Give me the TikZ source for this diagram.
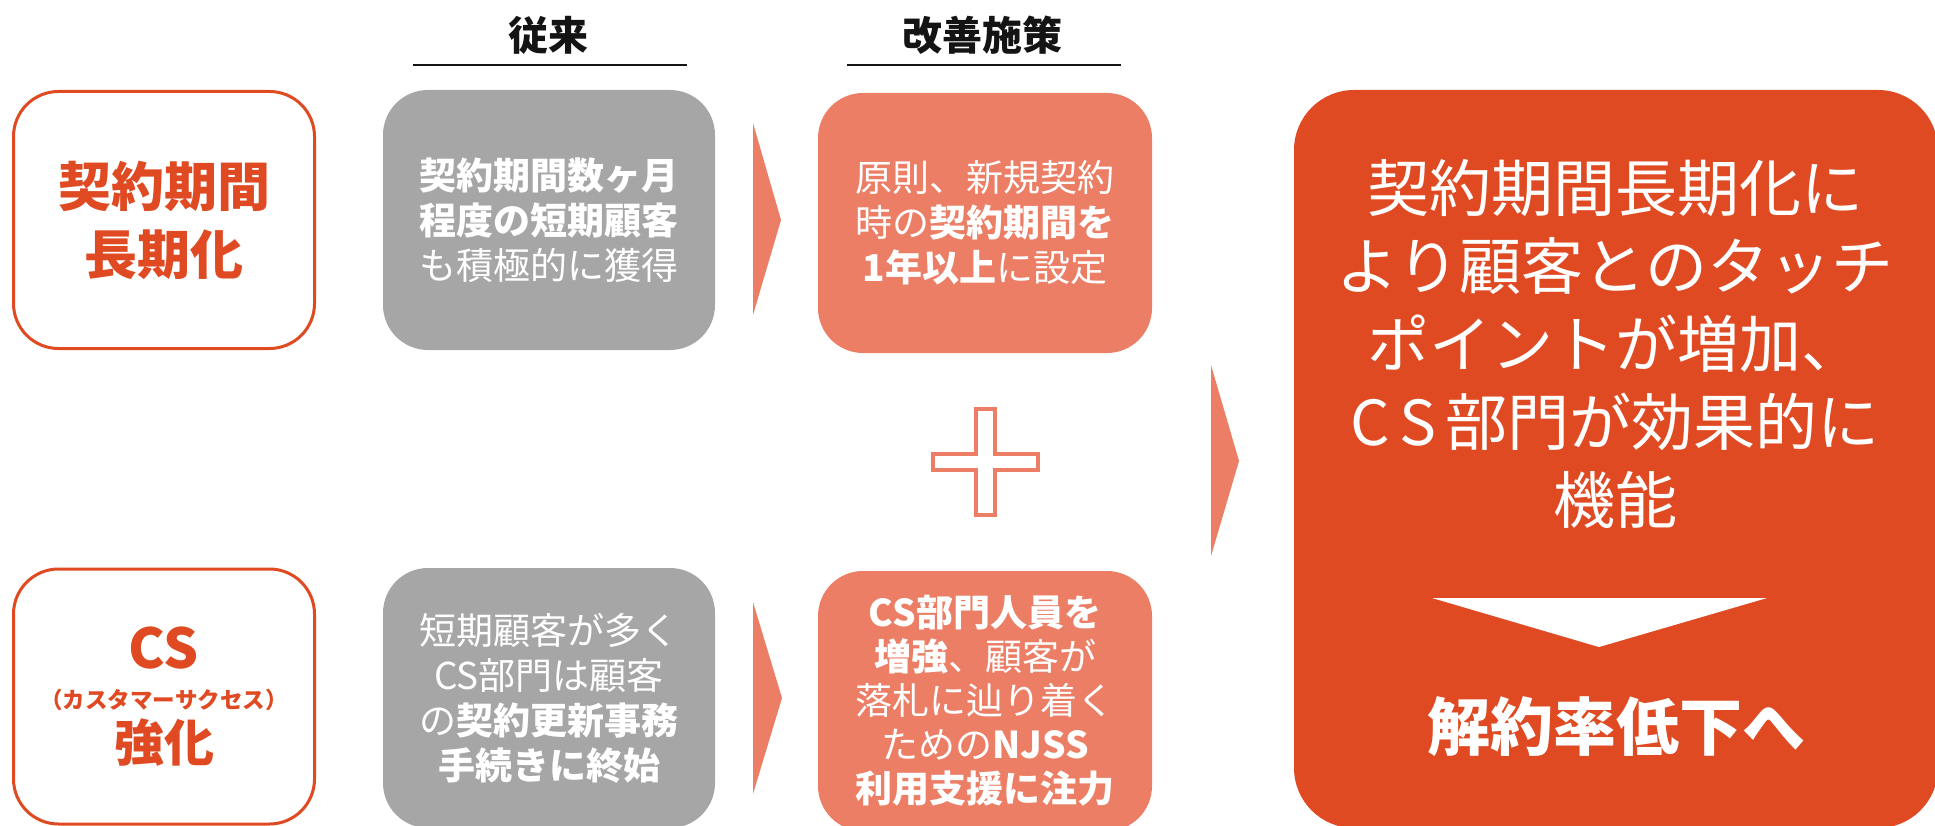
\documentclass[tikz,border=0pt]{standalone}
\usepackage{fontspec}
\setmainfont{Noto Sans CJK JP}
\newcommand\fsz[2]{\fontsize{#1}{#2}\selectfont}
\definecolor{corange}{RGB}{224,74,35}
\definecolor{csalmon}{RGB}{235,126,101}
\definecolor{cgray}{RGB}{166,166,166}
\definecolor{cdark}{RGB}{20,20,20}
\tikzset{
  box/.style={inner sep=0pt, outer sep=0pt, align=center, rounded corners=45pt},
  leftbox/.style={box, draw=corange, line width=3pt, fill=white, text=corange,
    minimum width=301pt},
  graybox/.style={box, fill=cgray, text=white, minimum width=332pt, font=\fsz{37}{45}},
  salmonbox/.style={box, fill=csalmon, text=white, minimum width=334pt, font=\fsz{37}{45}},
  bigbox/.style={box, fill=corange, rounded corners=60pt, minimum width=644pt, minimum height=738pt},
  header/.style={inner sep=0pt, font=\fsz{40}{40}\bfseries, text=cdark},
  uline/.style={line width=2.5pt, draw=cdark},
  chevron/.style={fill=csalmon},
  lbl/.style={inner sep=0pt, text=corange, align=center}
}
\begin{document}
\begin{tikzpicture}[x=1pt,y=-1pt]
\useasboundingbox (0,0) rectangle (1935,826);
\clip (0,0) rectangle (1935,826);

% headers
\node[header] (h1) at (548,35) {従来};
\node[header] (h2) at (982,35) {改善施策};
\draw[uline] (413,65) -- (687,65);
\draw[uline] (847,65) -- (1121,65);

% left boxes
\node[leftbox, minimum height=257pt, font=\fsz{53}{68}\bfseries] (l1) at (164,220) {契約期間\\長期化};
\node[leftbox, minimum height=255pt] (l2) at (164,696.5) {};
\node[lbl, font=\fsz{55}{55}\bfseries] (l2a) at (164,648) {CS};
\node[lbl, font=\fsz{22.5}{22.5}\bfseries] (l2b) at (164,700) {（カスタマーサクセス）};
\node[lbl, font=\fsz{50}{50}\bfseries] (l2c) at (164,743) {強化};

% gray boxes
\node[graybox, minimum height=260pt] (g1) at (549,220)
  {\textbf{契約期間数ヶ月}\\\textbf{程度の短期顧客}\\も積極的に獲得};
\node[graybox, minimum height=260pt] (g2) at (549,698)
  {短期顧客が多く\\CS部門は顧客\\の\textbf{契約更新事務}\\\textbf{手続きに終始}};

% chevrons
\fill[chevron] (753,123) -- (781,220) -- (753,315) -- cycle;
\fill[chevron] (753,602) -- (782,698) -- (753,794) -- cycle;

% salmon boxes
\node[salmonbox, minimum height=260pt] (s1) at (985,223)
  {原則、新規契約\\時の\textbf{契約期間を}\\\textbf{1年以上}に設定};
\node[salmonbox, minimum height=260pt, font=\fsz{37}{44}] (s2) at (985,701)
  {\textbf{CS部門人員を}\\\textbf{増強}、顧客が\\落札に辿り着く\\ための\textbf{NJSS}\\\textbf{利用支援に注力}};

% plus sign
\draw[draw=csalmon, line width=4pt, fill=white, line join=miter]
  (976,409) -- (995,409) -- (995,454) -- (1038,454) -- (1038,470) -- (995,470)
  -- (995,515) -- (976,515) -- (976,470) -- (933,470) -- (933,454) -- (976,454) -- cycle;

% big chevron
\fill[chevron] (1211,365) -- (1239,461) -- (1211,556) -- cycle;

% big box
\node[bigbox] (big) at (1616,459) {};
\node[inner sep=0pt, text=white, align=center, font=\fsz{62}{78}] (bigtext) at (1615,344)
  {契約期間長期化に\\より顧客とのタッチ\\ポイントが増加、\\C\kern9pt S\kern9pt 部門が効果的に\\機能};
\fill[white] (1432,598) -- (1767,598) -- (1599,647) -- cycle;
\node[inner sep=0pt, text=white, font=\fsz{63}{63}\bfseries] (result) at (1616,727) {解約率低下へ};
\end{tikzpicture}
\end{document}
